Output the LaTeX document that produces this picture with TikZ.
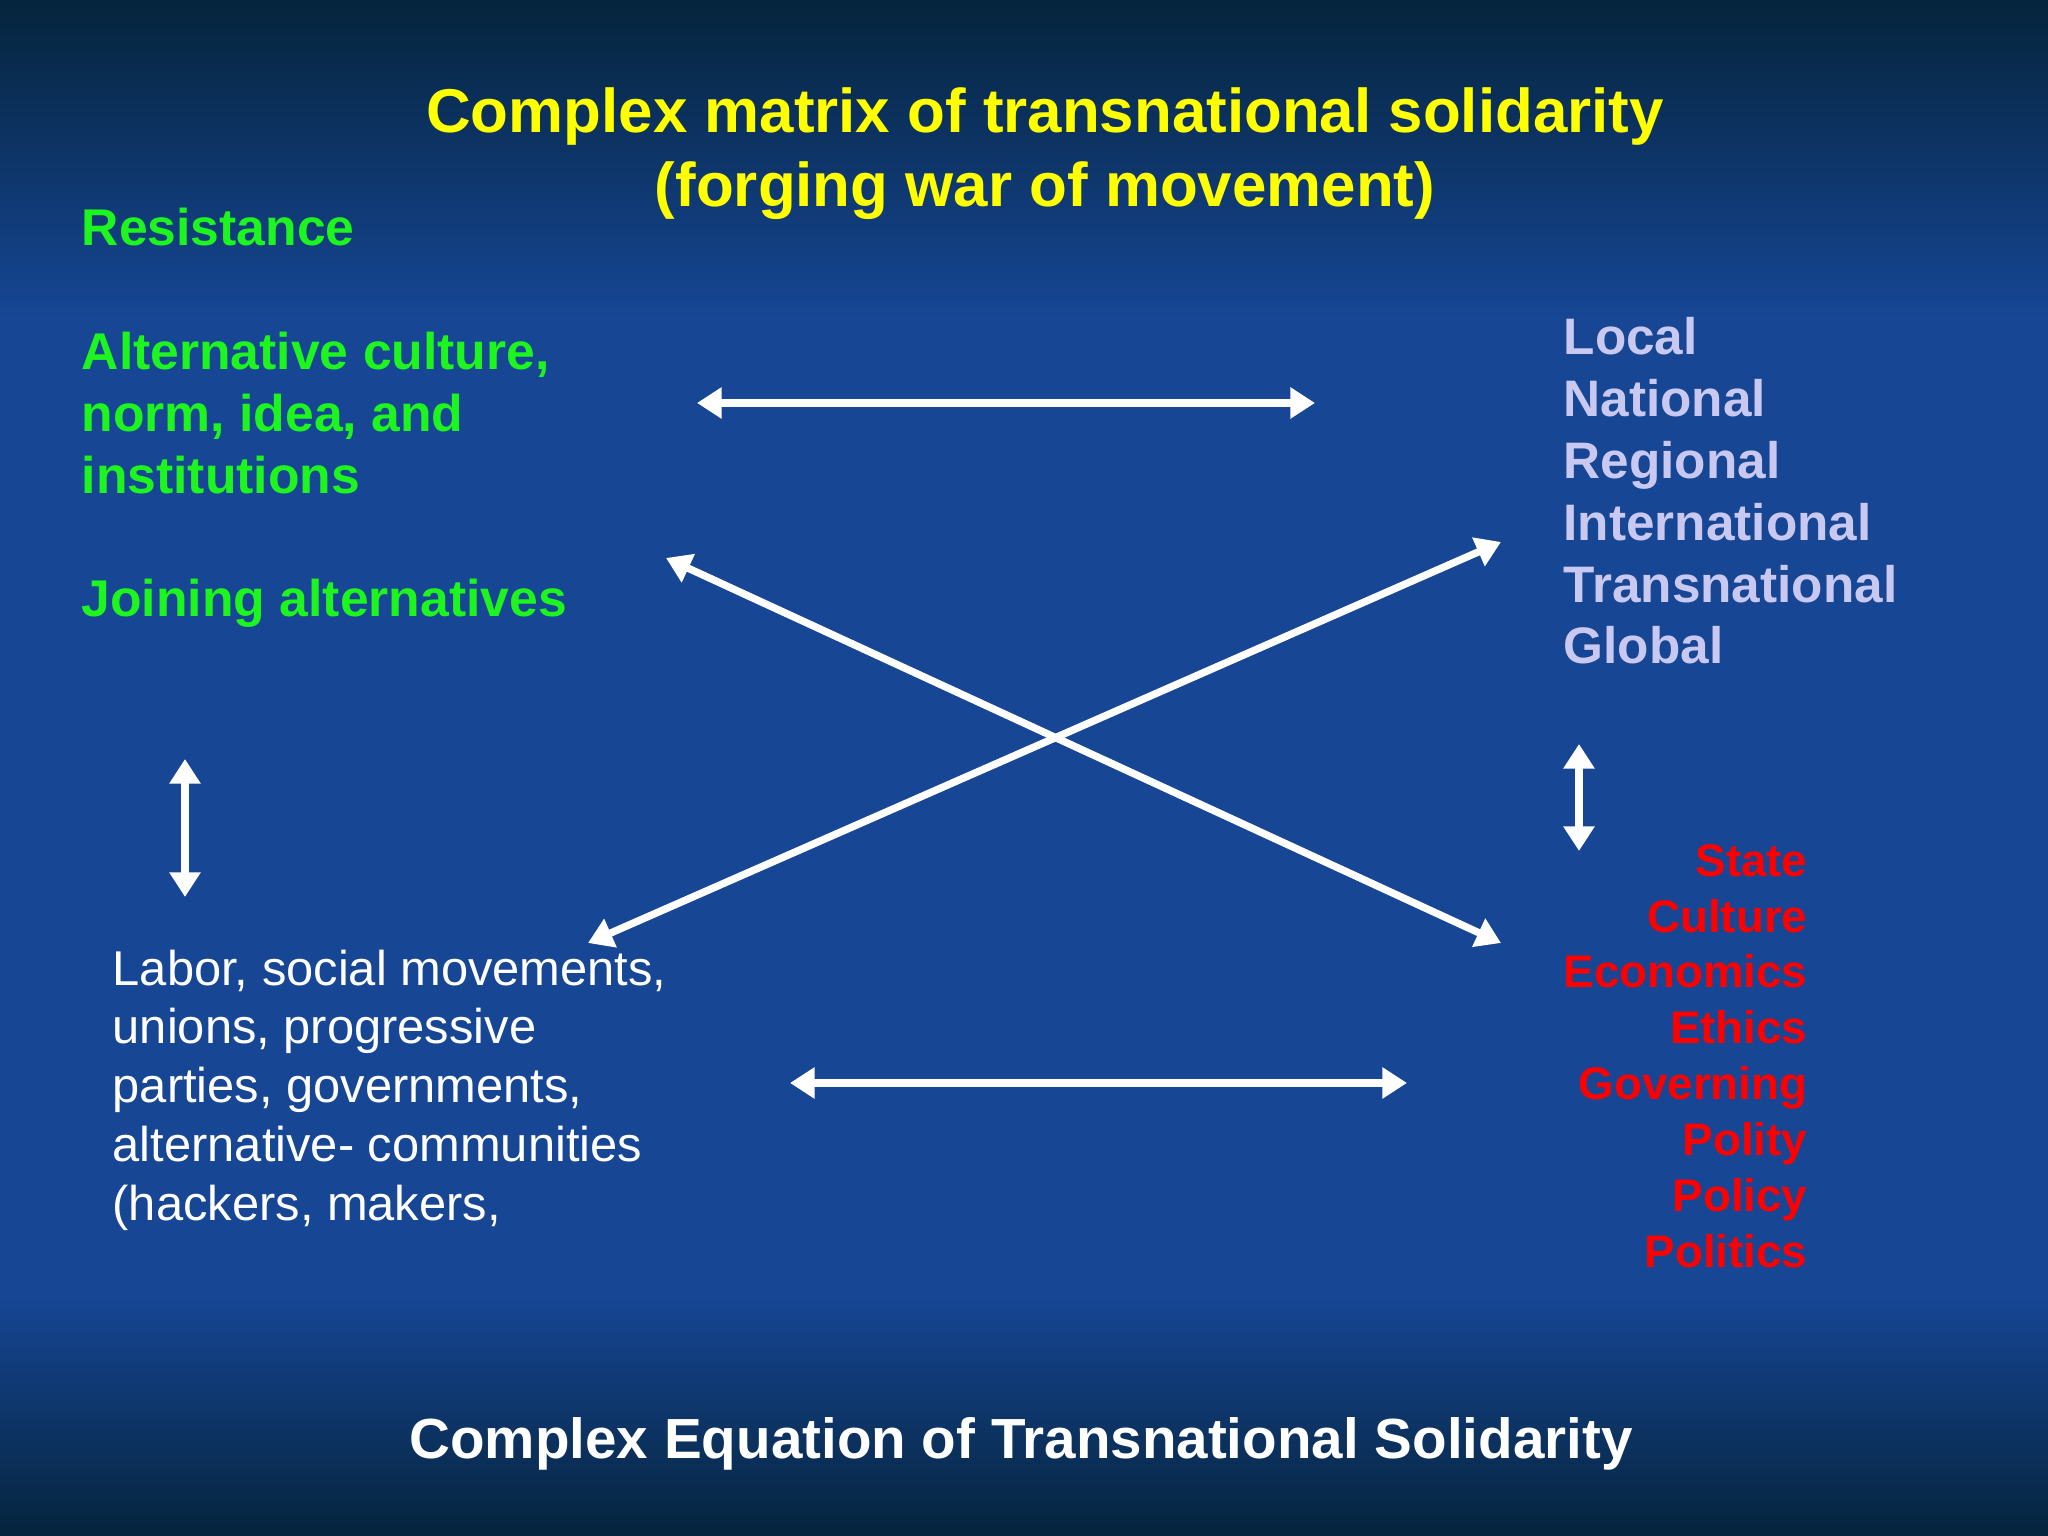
\documentclass[tikz,border=0pt]{standalone}
\usepackage{fontspec}
\setmainfont{Liberation Sans}
\usepackage{tikz}
\usetikzlibrary{arrows.meta, positioning}

\definecolor{slidetop}{RGB}{5,36,60}
\definecolor{slideblue}{RGB}{22,70,148}
\definecolor{resgreen}{RGB}{30,245,30}
\definecolor{levellav}{RGB}{200,200,240}
\definecolor{fieldred}{RGB}{255,0,0}
\definecolor{titleyellow}{RGB}{255,255,0}

\tikzset{
  heading/.style={text=titleyellow, align=center, inner sep=0pt, font=\bfseries\fontsize{17.6}{21}\selectfont},
  greenlist/.style={text=resgreen, align=left, inner sep=0pt, font=\bfseries\fontsize{14.7}{17.6}\selectfont},
  levellist/.style={text=levellav, align=left, inner sep=0pt, font=\bfseries\fontsize{14.6}{17.6}\selectfont},
  fieldlist/.style={text=fieldred, align=right, inner sep=0pt, font=\bfseries\fontsize{13}{15.9}\selectfont},
  actorlist/.style={text=white, align=left, inner sep=0pt, font=\fontsize{13.9}{16.7}\selectfont},
  footer/.style={text=white, inner sep=0pt, font=\bfseries\fontsize{16.1}{19}\selectfont},
  link/.style={{Triangle[length=7pt,width=8.5pt]}-{Triangle[length=7pt,width=8.5pt]}, white, line width=2.1pt}
}

\begin{document}
\begin{tikzpicture}[on grid]
	\useasboundingbox (0,0) rectangle (20.48,15.36);
	% background
	\fill[slideblue] (0,0) rectangle (20.48,15.36);
	\fill[top color=slidetop, bottom color=slideblue] (0,12.2) rectangle (20.48,15.36);
	\fill[top color=slideblue, bottom color=slidetop] (0,0) rectangle (20.48,2.4);
	
	\node[heading] (title) at (10.45,13.82) {Complex matrix of transnational solidarity\\(forging war of movement)};
	\node[greenlist, anchor=west] (resist) at (0.81,11.18) {Resistance\\[17.6pt]Alternative culture,\\norm, idea, and\\institutions\\[17.6pt]Joining alternatives};
	\node[levellist, anchor=west] (levels) at (15.63,10.45) {Local\\National\\Regional\\International\\Transnational\\Global};
	\node[fieldlist, anchor=east] (fields) at (18.08,4.80) {State\\Culture\\Economics\\Ethics\\Governing\\Polity\\Policy\\Politics};
	\node[actorlist, anchor=west] (actors) at (1.12,4.46) {Labor, social movements,\\unions, progressive\\parties, governments,\\alternative- communities\\(hackers, makers,};
	\node[footer] (equation) at (10.21,0.92) {Complex Equation of Transnational Solidarity};
	
	\coordinate (top-l) at (6.97,11.33);
	\coordinate[right=6.18 of top-l] (top-r);
	\coordinate (cross1-a) at (6.66,9.78);
	\coordinate (cross1-b) at (15.01,5.93);
	\coordinate (cross2-a) at (5.88,5.93);
	\coordinate (cross2-b) at (15.01,9.94);
	\coordinate (lv-t) at (1.85,7.77);
	\coordinate[below=1.38 of lv-t] (lv-b);
	\coordinate (rv-t) at (15.79,7.92);
	\coordinate[below=1.07 of rv-t] (rv-b);
	\coordinate (bot-l) at (7.90,4.53);
	\coordinate[right=6.17 of bot-l] (bot-r);
	
	\draw[link] (top-l) -- (top-r);
	\draw[link] (cross1-a) -- (cross1-b);
	\draw[link] (cross2-a) -- (cross2-b);
	\draw[link] (lv-t) -- (lv-b);
	\draw[link] (rv-t) -- (rv-b);
	\draw[link] (bot-l) -- (bot-r);
\end{tikzpicture}
\end{document}
